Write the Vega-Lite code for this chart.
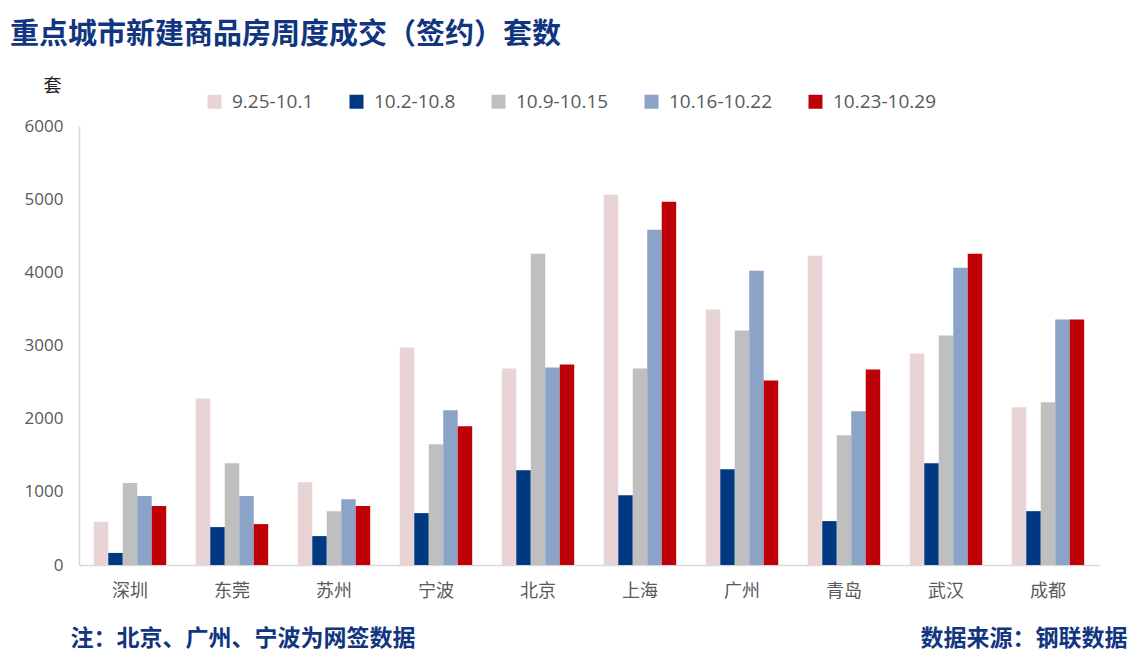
{
  "$schema": "https://vega.github.io/schema/vega-lite/v6.json",
  "width": 1020,
  "height": 439,
  "autosize": {"type": "none"},
  "padding": {"left": 79, "top": 126, "right": 29, "bottom": 100},
  "background": "white",
  "title": {
    "text": "重点城市新建商品房周度成交（签约）套数",
    "anchor": "start",
    "frame": "group",
    "orient": "top",
    "dx": -69,
    "offset": 27,
    "font": "Noto Sans CJK SC",
    "fontSize": 29,
    "fontWeight": "bold",
    "color": "#12357f"
  },
  "config": {
    "view": {"stroke": null},
    "font": "Noto Sans CJK SC"
  },
  "data": {
    "values": [
      {"city": "深圳", "week": "9.25-10.1", "value": 590},
      {"city": "深圳", "week": "10.2-10.8", "value": 165},
      {"city": "深圳", "week": "10.9-10.15", "value": 1120},
      {"city": "深圳", "week": "10.16-10.22", "value": 943},
      {"city": "深圳", "week": "10.23-10.29", "value": 806},
      {"city": "东莞", "week": "9.25-10.1", "value": 2277},
      {"city": "东莞", "week": "10.2-10.8", "value": 518},
      {"city": "东莞", "week": "10.9-10.15", "value": 1391},
      {"city": "东莞", "week": "10.16-10.22", "value": 943},
      {"city": "东莞", "week": "10.23-10.29", "value": 559},
      {"city": "苏州", "week": "9.25-10.1", "value": 1132},
      {"city": "苏州", "week": "10.2-10.8", "value": 395},
      {"city": "苏州", "week": "10.9-10.15", "value": 736},
      {"city": "苏州", "week": "10.16-10.22", "value": 900},
      {"city": "苏州", "week": "10.23-10.29", "value": 806},
      {"city": "宁波", "week": "9.25-10.1", "value": 2973},
      {"city": "宁波", "week": "10.2-10.8", "value": 709},
      {"city": "宁波", "week": "10.9-10.15", "value": 1650},
      {"city": "宁波", "week": "10.16-10.22", "value": 2114},
      {"city": "宁波", "week": "10.23-10.29", "value": 1895},
      {"city": "北京", "week": "9.25-10.1", "value": 2686},
      {"city": "北京", "week": "10.2-10.8", "value": 1295},
      {"city": "北京", "week": "10.9-10.15", "value": 4255},
      {"city": "北京", "week": "10.16-10.22", "value": 2700},
      {"city": "北京", "week": "10.23-10.29", "value": 2741},
      {"city": "上海", "week": "9.25-10.1", "value": 5059},
      {"city": "上海", "week": "10.2-10.8", "value": 955},
      {"city": "上海", "week": "10.9-10.15", "value": 2686},
      {"city": "上海", "week": "10.16-10.22", "value": 4582},
      {"city": "上海", "week": "10.23-10.29", "value": 4964},
      {"city": "广州", "week": "9.25-10.1", "value": 3491},
      {"city": "广州", "week": "10.2-10.8", "value": 1309},
      {"city": "广州", "week": "10.9-10.15", "value": 3205},
      {"city": "广州", "week": "10.16-10.22", "value": 4023},
      {"city": "广州", "week": "10.23-10.29", "value": 2523},
      {"city": "青岛", "week": "9.25-10.1", "value": 4227},
      {"city": "青岛", "week": "10.2-10.8", "value": 600},
      {"city": "青岛", "week": "10.9-10.15", "value": 1773},
      {"city": "青岛", "week": "10.16-10.22", "value": 2100},
      {"city": "青岛", "week": "10.23-10.29", "value": 2673},
      {"city": "武汉", "week": "9.25-10.1", "value": 2891},
      {"city": "武汉", "week": "10.2-10.8", "value": 1391},
      {"city": "武汉", "week": "10.9-10.15", "value": 3136},
      {"city": "武汉", "week": "10.16-10.22", "value": 4064},
      {"city": "武汉", "week": "10.23-10.29", "value": 4255},
      {"city": "成都", "week": "9.25-10.1", "value": 2155},
      {"city": "成都", "week": "10.2-10.8", "value": 736},
      {"city": "成都", "week": "10.9-10.15", "value": 2223},
      {"city": "成都", "week": "10.16-10.22", "value": 3355},
      {"city": "成都", "week": "10.23-10.29", "value": 3355}
    ]
  },
  "layer": [
    {
      "mark": {"type": "bar"},
      "encoding": {
        "x": {
          "field": "city",
          "type": "nominal",
          "sort": ["深圳", "东莞", "苏州", "宁波", "北京", "上海", "广州", "青岛", "武汉", "成都"],
          "scale": {"paddingInner": 0.29, "paddingOuter": 0.145},
          "axis": {
            "title": "注：北京、广州、宁波为网签数据",
            "titleFont": "Noto Sans CJK SC",
            "titleFontSize": 23,
            "titleFontWeight": "bold",
            "titleColor": "#12357f",
            "titleAnchor": "start",
            "titleAlign": "left",
            "titleBaseline": "middle",
            "titleX": -9,
            "titleY": 73,
            "labelAngle": 0,
            "labelFont": "Noto Sans CJK SC",
            "labelFontSize": 18,
            "labelColor": "#595959",
            "labelPadding": 17,
            "ticks": false,
            "domainColor": "#D9D9D9",
            "domainWidth": 1.5
          }
        },
        "xOffset": {
          "field": "week",
          "type": "nominal",
          "sort": ["9.25-10.1", "10.2-10.8", "10.9-10.15", "10.16-10.22", "10.23-10.29"]
        },
        "y": {
          "field": "value",
          "type": "quantitative",
          "scale": {"domain": [0, 6000], "nice": false},
          "axis": {
            "values": [0, 1000, 2000, 3000, 4000, 5000, 6000],
            "format": "d",
            "grid": false,
            "ticks": false,
            "domainColor": "#D9D9D9",
            "domainWidth": 1.5,
            "labelFont": "Open Sans",
            "labelFontSize": 17,
            "labelColor": "#595959",
            "labelPadding": 16,
            "title": "套",
            "titleFont": "Noto Sans CJK SC",
            "titleFontSize": 18,
            "titleFontWeight": "normal",
            "titleColor": "#222222",
            "titleAngle": 0,
            "titleAlign": "center",
            "titleBaseline": "middle",
            "titleX": -27,
            "titleY": -40
          }
        },
        "color": {
          "field": "week",
          "type": "nominal",
          "scale": {
            "domain": ["9.25-10.1", "10.2-10.8", "10.9-10.15", "10.16-10.22", "10.23-10.29"],
            "range": ["#E8D4D4", "#003882", "#BFBFBF", "#8BA3C7", "#BE0008"]
          },
          "legend": {
            "title": null,
            "orient": "none",
            "direction": "horizontal",
            "legendX": 126,
            "legendY": -34,
            "symbolType": "square",
            "symbolSize": 196,
            "symbolStrokeWidth": 0,
            "labelFont": "Open Sans",
            "labelFontSize": 19,
            "labelColor": "#595959",
            "labelOffset": 8,
            "columnPadding": 33
          }
        }
      }
    },
    {
      "mark": {"type": "rule", "opacity": 0},
      "encoding": {
        "y": {
          "datum": 0,
          "type": "quantitative",
          "scale": {"domain": [0, 6000], "nice": false},
          "axis": {
            "orient": "right",
            "labels": false,
            "ticks": false,
            "domain": false,
            "grid": false,
            "title": "数据来源：钢联数据",
            "titleFont": "Noto Sans CJK SC",
            "titleFontSize": 23,
            "titleFontWeight": "bold",
            "titleColor": "#12357f",
            "titleAngle": 0,
            "titleAlign": "right",
            "titleBaseline": "middle",
            "titleX": 28,
            "titleY": 512
          }
        }
      }
    }
  ],
  "resolve": {"scale": {"y": "independent"}}
}
